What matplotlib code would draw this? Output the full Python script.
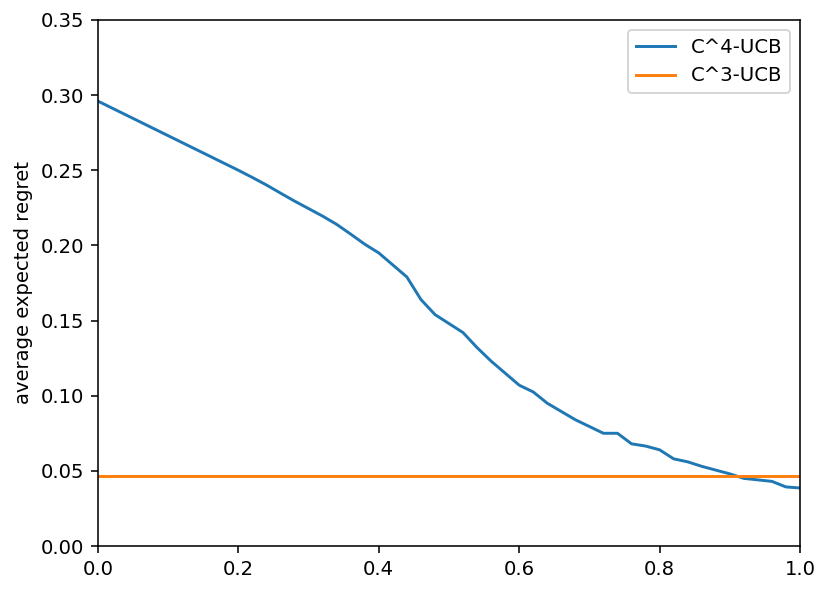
import numpy as np
import matplotlib
matplotlib.use("Agg")
import matplotlib.pyplot as plt

x_vals = [i / 50 for i in range(51)]
c4_ucb = [0.296, 0.2914, 0.2868, 0.2822, 0.2776, 0.273, 0.2684, 0.2638, 0.2592, 0.2546,
          0.250, 0.2452, 0.2402, 0.2348, 0.2295, 0.2245, 0.2195, 0.214, 0.2075, 0.2008,
          0.195, 0.187, 0.179, 0.164, 0.154, 0.148, 0.142, 0.132, 0.123, 0.115,
          0.107, 0.1025, 0.095, 0.0895, 0.084, 0.0795, 0.075, 0.075, 0.068, 0.0665,
          0.064, 0.058, 0.056, 0.053, 0.0505, 0.048, 0.045, 0.044, 0.043, 0.0393,
          0.0386]
c3_ucb = 0.0466

dpi = 141
fig = plt.figure(figsize=(831 / dpi, 592 / dpi), dpi=dpi)
ax = fig.add_axes([98 / 831, (592 - 546) / 592, (800 - 98) / 831, (546 - 20) / 592])
ax.plot(x_vals, c4_ucb, label="C^4-UCB")
ax.plot(x_vals, [c3_ucb] * len(x_vals), label="C^3-UCB")
ax.set_xlim(0, 1)
ax.set_ylim(0, 0.35)
ax.set_ylabel("average expected regret")
ax.legend(loc="upper right")
fig.savefig("out.png", dpi=dpi)
